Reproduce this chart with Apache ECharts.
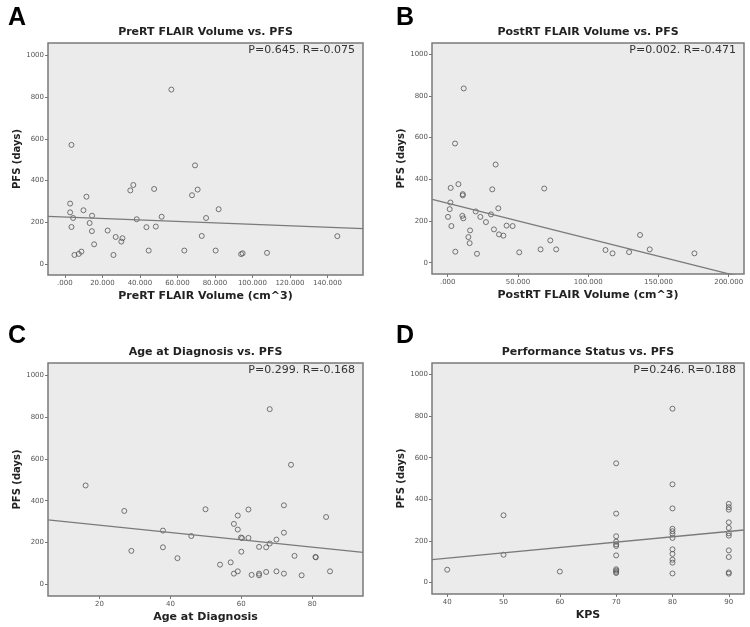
<!DOCTYPE html>
<html>
<head>
<meta charset="utf-8">
<script src="https://cdn.jsdelivr.net/npm/echarts@6/dist/echarts.min.js"></script>
<style>html,body{margin:0;padding:0;background:#fff}#c{width:750px;height:627px}</style>
</head>
<body>
<div id="c"></div>
<script>
// ---- Data ----
const yTicks = [0, 200, 400, 600, 800, 1000];

// A: PreRT FLAIR Volume vs PFS
const aTicks = [0, 20, 40, 60, 80, 100, 120, 140];
const aX = [2.8,2.8,3.5,4.4,3.5,5.1,7.4,8.8,9.9,11.5,13.2,14.5,14.4,15.6,22.8,25.9,27.1,30.1,30.7,34.9,36.5,38.3,43.5,44.7,47.6,48.5,51.6,56.8,63.7,67.8,69.4,70.8,75.3,73.0,82.0,80.4,94.0,94.8,107.8,145.3];
const aY = [290,248,571,221,178,44,49,60,258,323,197,232,158,95,161,44,130,108,124,353,379,215,177,65,360,180,227,836,65,330,473,357,221,135,263,65,48,52,54,134];
const aLineX = [-9, 159];
const aLineY = [229, 170];

// B: PostRT FLAIR Volume vs PFS
const bTicks = [0, 50, 100, 150, 200];
const bX = [11.4,5.2,7.6,2.1,10.7,10.7,1.9,1.4,0.2,2.6,10.4,11.1,5.4,15.9,14.7,15.6,19.9,20.8,23.2,27.2,30.8,31.7,34.1,32.9,36.0,36.5,39.6,41.9,46.2,50.9,66.1,68.7,73.0,77.2,112.3,117.3,129.1,136.9,143.8,175.6];
const bY = [836,572,377,359,329,323,289,257,220,176,225,213,53,155,123,94,246,43,220,195,232,352,471,160,261,136,130,178,176,50,64,356,107,64,61,45,51,133,64,45];
const bLineX = [-11, 211];
const bLineY = [304, -72];

// C: Age at Diagnosis vs PFS
const cTicks = [20, 40, 60, 80];
const cX = [16.1,27.0,29.0,37.9,37.9,42.0,45.9,49.9,54.0,57.0,57.9,59.0,59.0,59.9,60.2,62.0,62.0,60.0,57.9,59.0,62.9,65.0,65.0,65.0,67.0,68.0,67.0,68.0,69.9,69.9,72.0,72.0,72.0,74.0,75.0,77.0,80.9,81.0,83.9,85.0];
const cY = [473,351,160,257,177,125,231,359,94,105,289,329,262,224,221,222,358,156,51,62,45,51,43,179,177,195,59,838,214,62,247,378,51,572,136,43,131,129,322,62];
const cLineX = [5.5, 94.3];
const cLineY = [308, 153];

// D: Performance Status vs PFS
const dTicks = [40, 50, 60, 70, 80, 90];
const dX = [40,50,50,60,70,70,70,70,70,70,70,70,70,70,70,80,80,80,80,80,80,80,80,80,80,80,80,90,90,90,90,90,90,90,90,90,90,90];
const dY = [61,323,133,52,573,331,222,196,183,175,130,63,57,50,45,836,472,356,258,246,233,214,159,137,109,95,43,378,362,350,289,262,236,225,154,122,48,42];
const dLineX = [37.3, 92.7];
const dLineY = [109, 252];

const panels = [
  {letter:'A', title:'PreRT FLAIR Volume vs. PFS', xName:'PreRT FLAIR Volume (cm^3)', stat:'P=0.645. R=-0.075',
   xs:aX, ys:aY, lx:aLineX, ly:aLineY, ticks:aTicks, xMin:-9, xMax:159, yMin:-52, yMax:1059, dec:true,
   grid:{left:48, top:43, width:315, height:232}},
  {letter:'B', title:'PostRT FLAIR Volume vs. PFS', xName:'PostRT FLAIR Volume (cm^3)', stat:'P=0.002. R=-0.471',
   xs:bX, ys:bY, lx:bLineX, ly:bLineY, ticks:bTicks, xMin:-11.2, xMax:210.9, yMin:-54, yMax:1054, dec:true,
   grid:{left:432, top:43, width:312, height:231}},
  {letter:'C', title:'Age at Diagnosis vs. PFS', xName:'Age at Diagnosis', stat:'P=0.299. R=-0.168',
   xs:cX, ys:cY, lx:cLineX, ly:cLineY, ticks:cTicks, xMin:5.5, xMax:94.3, yMin:-56, yMax:1059, dec:false,
   grid:{left:48, top:363, width:315, height:233}},
  {letter:'D', title:'Performance Status vs. PFS', xName:'KPS', stat:'P=0.246. R=0.188',
   xs:dX, ys:dY, lx:dLineX, ly:dLineY, ticks:dTicks, xMin:37.3, xMax:92.7, yMin:-56, yMax:1056, dec:false,
   grid:{left:432, top:363, width:312, height:231}}
];

const FONT = 'DejaVu Sans';
const grids = [], xAxes = [], yAxes = [], series = [], titles = [];
panels.forEach((p, i) => {
  grids.push(Object.assign({show:true, backgroundColor:'#ebebeb', borderColor:'#7a7a7a', borderWidth:1.5}, p.grid));
  xAxes.push({
    type:'value', gridIndex:i, min:p.xMin, max:p.xMax,
    axisLine:{show:false, onZero:false}, splitLine:{show:false},
    axisTick:{show:true, length:3, lineStyle:{color:'#777'}, customValues:p.ticks},
    axisLabel:{customValues:p.ticks, fontSize:7, color:'#555', margin:5, fontFamily:FONT,
      formatter: v => p.dec ? (v === 0 ? '.000' : v.toFixed(3)) : String(v)},
    name:p.xName, nameLocation:'middle', nameGap:16,
    nameTextStyle:{fontSize:11, fontWeight:'bold', color:'#222', fontFamily:FONT}
  });
  yAxes.push({
    type:'value', gridIndex:i, min:p.yMin, max:p.yMax,
    axisLine:{show:false, onZero:false}, splitLine:{show:false},
    axisTick:{show:true, length:3, lineStyle:{color:'#777'}, customValues:yTicks},
    axisLabel:{customValues:yTicks, fontSize:7, color:'#555', margin:4, fontFamily:FONT,
      formatter: v => String(v)},
    name:'PFS (days)', nameLocation:'middle', nameGap:24,
    nameTextStyle:{fontSize:10, fontWeight:'bold', color:'#222', fontFamily:FONT}
  });
  series.push({
    type:'scatter', xAxisIndex:i, yAxisIndex:i, symbol:'circle', symbolSize:5,
    itemStyle:{color:'rgba(0,0,0,0)', borderColor:'#555', borderWidth:1},
    data:p.xs.map((x, k) => [x, p.ys[k]]), silent:true
  });
  series.push({
    type:'line', xAxisIndex:i, yAxisIndex:i, symbol:'none', clip:true, silent:true,
    lineStyle:{color:'#7a7a7a', width:1.3},
    data:p.lx.map((x, k) => [x, p.ly[k]])
  });
  const cx = p.grid.left + p.grid.width / 2;
  titles.push({text:p.letter, left:(i % 2 ? 391 : 3), top:(i < 2 ? 1 : 319),
    textStyle:{fontSize:25, fontWeight:'bold', color:'#000', fontFamily:'Liberation Sans'}});
  titles.push({text:p.title, left:cx, textAlign:'center', top:p.grid.top - 16, padding:0,
    textStyle:{fontSize:11, fontWeight:'bold', color:'#222', fontFamily:FONT}});
  titles.push({text:p.stat, right:750 - (p.grid.left + p.grid.width) + 8, top:p.grid.top + 2, padding:0,
    textStyle:{fontSize:11, fontWeight:'normal', color:'#333', fontFamily:FONT}});
});

const chart = echarts.init(document.getElementById('c'), null, {renderer:'canvas'});
chart.setOption({
  animation:false, backgroundColor:'#fff',
  title:titles, grid:grids, xAxis:xAxes, yAxis:yAxes, series:series
});
</script>
</body>
</html>
